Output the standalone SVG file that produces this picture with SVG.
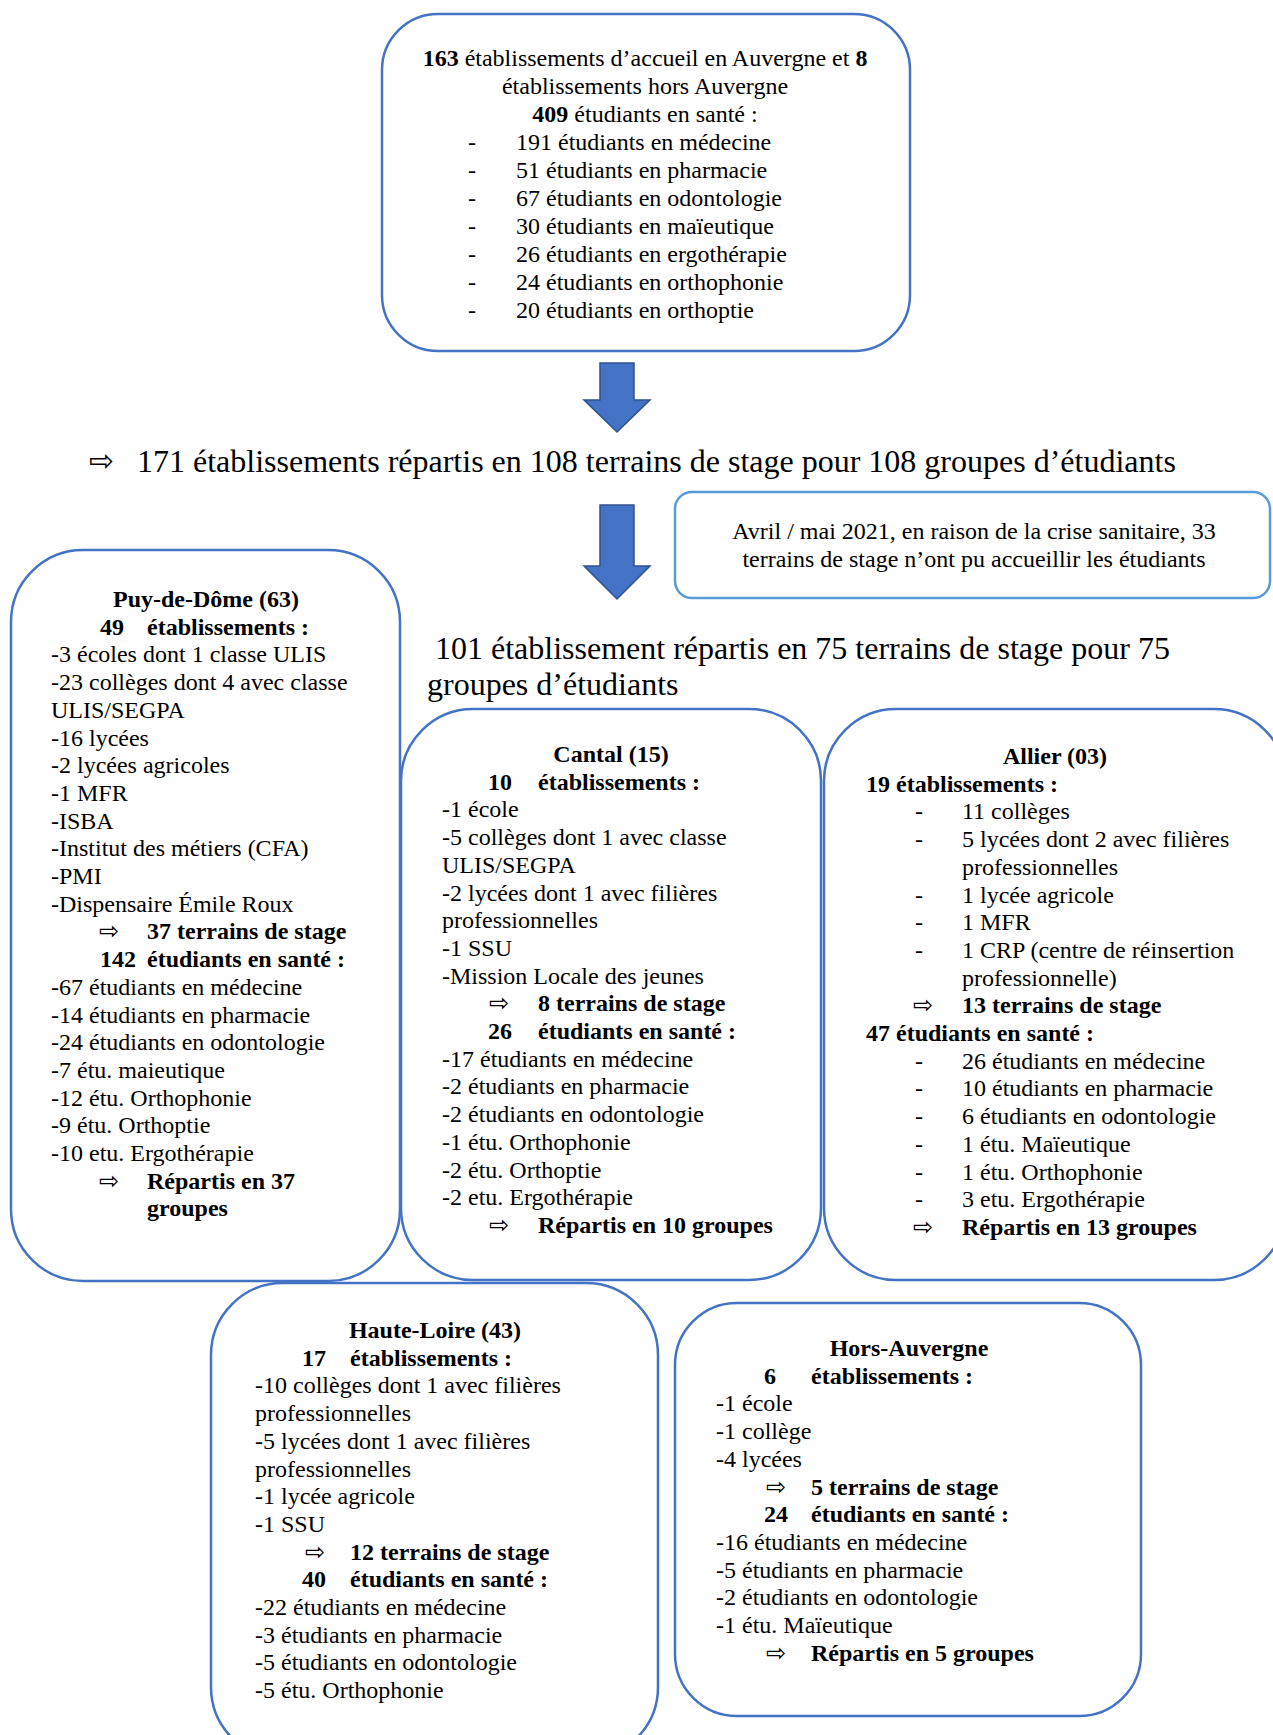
<svg xmlns="http://www.w3.org/2000/svg" width="1273" height="1735" viewBox="0 0 1273 1735">
<style>
.box{fill:#fff;stroke:#4472C4;stroke-width:2.5}
.box2{fill:#fff;stroke:#5B9BD5;stroke-width:2.5}
.t{font-family:"Liberation Serif","Times New Roman",serif;font-size:24px;fill:#000}
.big{font-size:32px}
.b{font-weight:bold}
.c{text-anchor:middle}
.ar{font-family:"DejaVu Sans",sans-serif;font-size:24px;fill:#000}
.blk{fill:#4472C4;stroke:#2F528F;stroke-width:1.5}
</style>
<rect width="1273" height="1735" fill="#fff"/>

<g id="connectors">
<polygon class="blk" points="600,363 634,363 634,400 650,400 617,432 584,400 600,400"/>
<polygon class="blk" points="600,505 634,505 634,566 650,566 617,599 584,566 600,566"/>
</g>

<g id="top-box">
<rect class="box" x="382" y="14" width="528" height="337" rx="56"/>
<text class="t c" x="645" y="66"><tspan class="b">163</tspan> établissements d’accueil en Auvergne et <tspan class="b">8</tspan></text>
<text class="t c" x="645" y="94">établissements hors Auvergne</text>
<text class="t c" x="645" y="122"><tspan class="b">409</tspan> étudiants en santé :</text>
<g class="t">
<text x="468" y="150">-</text><text x="516" y="150">191 étudiants en médecine</text>
<text x="468" y="178">-</text><text x="516" y="178">51 étudiants en pharmacie</text>
<text x="468" y="206">-</text><text x="516" y="206">67 étudiants en odontologie</text>
<text x="468" y="234">-</text><text x="516" y="234">30 étudiants en maïeutique</text>
<text x="468" y="262">-</text><text x="516" y="262">26 étudiants en ergothérapie</text>
<text x="468" y="290">-</text><text x="516" y="290">24 étudiants en orthophonie</text>
<text x="468" y="318">-</text><text x="516" y="318">20 étudiants en orthoptie</text>
</g>
</g>

<g id="summary-171">
<text class="ar" x="89" y="471" style="font-size:30px">⇨</text>
<text class="t big" x="137" y="472">171 établissements répartis en 108 terrains de stage pour 108 groupes d’étudiants</text>
</g>

<g id="covid-box">
<rect class="box2" x="675" y="492" width="595" height="106" rx="17"/>
<text class="t c" x="974" y="539">Avril / mai 2021, en raison de la crise sanitaire, 33</text>
<text class="t c" x="974" y="567">terrains de stage n’ont pu accueillir les étudiants</text>
</g>

<g id="summary-101">
<text class="t big" x="435" y="659">101 établissement répartis en 75 terrains de stage pour 75</text>
<text class="t big" x="427" y="695">groupes d’étudiants</text>
</g>

<g id="puy-de-dome">
<rect class="box" x="11" y="550" width="389" height="731" rx="72"/>
<text class="t b c" x="206" y="607">Puy-de-Dôme (63)</text>
<text class="t b" x="100" y="634.7">49</text><text class="t b" x="147" y="634.7">établissements :</text>
<g class="t">
<text x="51" y="662.4">-3 écoles dont 1 classe ULIS</text>
<text x="51" y="690.1">-23 collèges dont 4 avec classe</text>
<text x="51" y="717.8">ULIS/SEGPA</text>
<text x="51" y="745.5">-16 lycées</text>
<text x="51" y="773.2">-2 lycées agricoles</text>
<text x="51" y="800.9">-1 MFR</text>
<text x="51" y="828.6">-ISBA</text>
<text x="51" y="856.3">-Institut des métiers (CFA)</text>
<text x="51" y="884">-PMI</text>
<text x="51" y="911.7">-Dispensaire Émile Roux</text>
</g>
<text class="ar" x="99" y="939.4">⇨</text><text class="t b" x="147" y="939.4">37 terrains de stage</text>
<text class="t b" x="100" y="967.1">142</text><text class="t b" x="147" y="967.1">étudiants en santé :</text>
<g class="t">
<text x="51" y="994.8">-67 étudiants en médecine</text>
<text x="51" y="1022.5">-14 étudiants en pharmacie</text>
<text x="51" y="1050.2">-24 étudiants en odontologie</text>
<text x="51" y="1077.9">-7 étu. maieutique</text>
<text x="51" y="1105.6">-12 étu. Orthophonie</text>
<text x="51" y="1133.3">-9 étu. Orthoptie</text>
<text x="51" y="1161">-10 etu. Ergothérapie</text>
</g>
<text class="ar" x="99" y="1188.7">⇨</text><text class="t b" x="147" y="1188.7">Répartis en 37</text>
<text class="t b" x="147" y="1216.4">groupes</text>
</g>

<g id="cantal">
<rect class="box" x="401" y="709" width="420" height="571" rx="72"/>
<text class="t b c" x="611" y="762">Cantal (15)</text>
<text class="t b" x="488" y="789.7">10</text><text class="t b" x="538" y="789.7">établissements :</text>
<g class="t">
<text x="442" y="817.4">-1 école</text>
<text x="442" y="845.1">-5 collèges dont 1 avec classe</text>
<text x="442" y="872.8">ULIS/SEGPA</text>
<text x="442" y="900.5">-2 lycées dont 1 avec filières</text>
<text x="442" y="928.2">professionnelles</text>
<text x="442" y="955.9">-1 SSU</text>
<text x="442" y="983.6">-Mission Locale des jeunes</text>
</g>
<text class="ar" x="489" y="1011.3">⇨</text><text class="t b" x="538" y="1011.3">8 terrains de stage</text>
<text class="t b" x="488" y="1039">26</text><text class="t b" x="538" y="1039">étudiants en santé :</text>
<g class="t">
<text x="442" y="1066.7">-17 étudiants en médecine</text>
<text x="442" y="1094.4">-2 étudiants en pharmacie</text>
<text x="442" y="1122.1">-2 étudiants en odontologie</text>
<text x="442" y="1149.8">-1 étu. Orthophonie</text>
<text x="442" y="1177.5">-2 étu. Orthoptie</text>
<text x="442" y="1205.2">-2 etu. Ergothérapie</text>
</g>
<text class="ar" x="489" y="1232.9">⇨</text><text class="t b" x="538" y="1232.9">Répartis en 10 groupes</text>
</g>

<g id="allier">
<rect class="box" x="824" y="709" width="462" height="571" rx="72"/>
<text class="t b c" x="1055" y="764">Allier (03)</text>
<text class="t b" x="866" y="791.7">19 établissements :</text>
<g class="t">
<text x="915" y="819.4">-</text><text x="962" y="819.4">11 collèges</text>
<text x="915" y="847.1">-</text><text x="962" y="847.1">5 lycées dont 2 avec filières</text>
<text x="962" y="874.8">professionnelles</text>
<text x="915" y="902.5">-</text><text x="962" y="902.5">1 lycée agricole</text>
<text x="915" y="930.2">-</text><text x="962" y="930.2">1 MFR</text>
<text x="915" y="957.9">-</text><text x="962" y="957.9">1 CRP (centre de réinsertion</text>
<text x="962" y="985.6">professionnelle)</text>
</g>
<text class="ar" x="913" y="1013.3">⇨</text><text class="t b" x="962" y="1013.3">13 terrains de stage</text>
<text class="t b" x="866" y="1041">47 étudiants en santé :</text>
<g class="t">
<text x="915" y="1068.7">-</text><text x="962" y="1068.7">26 étudiants en médecine</text>
<text x="915" y="1096.4">-</text><text x="962" y="1096.4">10 étudiants en pharmacie</text>
<text x="915" y="1124.1">-</text><text x="962" y="1124.1">6 étudiants en odontologie</text>
<text x="915" y="1151.8">-</text><text x="962" y="1151.8">1 étu. Maïeutique</text>
<text x="915" y="1179.5">-</text><text x="962" y="1179.5">1 étu. Orthophonie</text>
<text x="915" y="1207.2">-</text><text x="962" y="1207.2">3 etu. Ergothérapie</text>
</g>
<text class="ar" x="913" y="1234.9">⇨</text><text class="t b" x="962" y="1234.9">Répartis en 13 groupes</text>
</g>

<g id="haute-loire">
<rect class="box" x="211" y="1283" width="447" height="476" rx="72"/>
<text class="t b c" x="435" y="1338">Haute-Loire (43)</text>
<text class="t b" x="302" y="1365.7">17</text><text class="t b" x="350" y="1365.7">établissements :</text>
<g class="t">
<text x="255" y="1393.4">-10 collèges dont 1 avec filières</text>
<text x="255" y="1421.1">professionnelles</text>
<text x="255" y="1448.8">-5 lycées dont 1 avec filières</text>
<text x="255" y="1476.5">professionnelles</text>
<text x="255" y="1504.2">-1 lycée agricole</text>
<text x="255" y="1531.9">-1 SSU</text>
</g>
<text class="ar" x="305" y="1559.6">⇨</text><text class="t b" x="350" y="1559.6">12 terrains de stage</text>
<text class="t b" x="302" y="1587.3">40</text><text class="t b" x="350" y="1587.3">étudiants en santé :</text>
<g class="t">
<text x="255" y="1615">-22 étudiants en médecine</text>
<text x="255" y="1642.7">-3 étudiants en pharmacie</text>
<text x="255" y="1670.4">-5 étudiants en odontologie</text>
<text x="255" y="1698.1">-5 étu. Orthophonie</text>
</g>
</g>

<g id="hors-auvergne">
<rect class="box" x="675" y="1303" width="466" height="413" rx="62"/>
<text class="t b c" x="909" y="1356">Hors-Auvergne</text>
<text class="t b" x="764" y="1383.7">6</text><text class="t b" x="811" y="1383.7">établissements :</text>
<g class="t">
<text x="716" y="1411.4">-1 école</text>
<text x="716" y="1439.1">-1 collège</text>
<text x="716" y="1466.8">-4 lycées</text>
</g>
<text class="ar" x="766" y="1494.5">⇨</text><text class="t b" x="811" y="1494.5">5 terrains de stage</text>
<text class="t b" x="764" y="1522.2">24</text><text class="t b" x="811" y="1522.2">étudiants en santé :</text>
<g class="t">
<text x="716" y="1549.9">-16 étudiants en médecine</text>
<text x="716" y="1577.6">-5 étudiants en pharmacie</text>
<text x="716" y="1605.3">-2 étudiants en odontologie</text>
<text x="716" y="1633">-1 étu. Maïeutique</text>
</g>
<text class="ar" x="766" y="1660.7">⇨</text><text class="t b" x="811" y="1660.7">Répartis en 5 groupes</text>
</g>
</svg>
